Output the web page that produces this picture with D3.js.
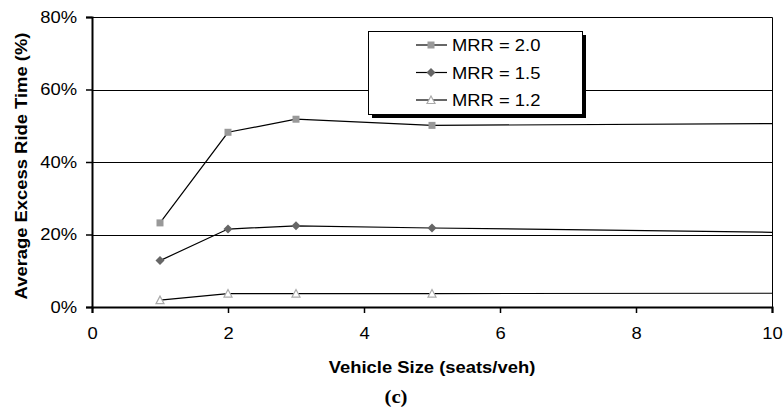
<!DOCTYPE html>
<html>
<head>
<meta charset="utf-8">
<script src="https://cdn.jsdelivr.net/npm/d3@7"></script>
<style>
  body { margin: 0; background: #fff; }
  svg { display: block; font-family: Arial, "Liberation Sans", sans-serif; }
</style>
</head>
<body>
<div id="chart"></div>
<script>
// ── Data ──────────────────────────────────────────────────────────────────
const vehicleSizes = [1, 2, 3, 5, 10];
const mrr20 = [23.2, 48.2, 51.8, 50.1, 50.6];
const mrr15 = [12.8, 21.5, 22.4, 21.8, 20.6];
const mrr12 = [1.9, 3.7, 3.7, 3.7, 3.8];
const seriesNames = ['MRR = 2.0', 'MRR = 1.5', 'MRR = 1.2'];
const xTicks = [0, 2, 4, 6, 8, 10];
const yTicks = [0, 20, 40, 60, 80];

const series = [
  { name: seriesNames[0], values: mrr20, marker: 'square' },
  { name: seriesNames[1], values: mrr15, marker: 'diamond' },
  { name: seriesNames[2], values: mrr12, marker: 'triangle' }
];

// ── Layout ────────────────────────────────────────────────────────────────
const W = 784, H = 407;
const margin = { top: 17, right: 12, bottom: 100, left: 92 };
const iw = W - margin.left - margin.right;
const ih = H - margin.top - margin.bottom;
const SX = 1.15; // the original's text is a little stretched sideways

const svg = d3.select('#chart').append('svg')
  .attr('width', W).attr('height', H);

const g = svg.append('g').attr('transform', `translate(${margin.left},${margin.top})`);

const x = d3.scaleLinear().domain([0, 10]).range([0, iw]);
const y = d3.scaleLinear().domain([0, 80]).range([ih, 0]);

// Gridlines
g.append('g')
  .selectAll('line').data(yTicks.filter(d => d > 0)).enter().append('line')
  .attr('x1', 0).attr('x2', iw)
  .attr('y1', d => Math.round(y(d)) + 0.5).attr('y2', d => Math.round(y(d)) + 0.5)
  .attr('stroke', '#000').attr('stroke-width', 1);

// Plot border (top + right)
g.append('path')
  .attr('d', `M0,0.5H${iw + 0.5}V${ih}`)
  .attr('fill', 'none').attr('stroke', '#000').attr('stroke-width', 1);

// Axes
const xAxis = g.append('g').attr('transform', `translate(0,${ih})`)
  .call(d3.axisBottom(x).tickValues(xTicks).tickSize(6).tickFormat(d3.format('d')));
const yAxis = g.append('g')
  .call(d3.axisLeft(y).tickValues(yTicks).tickSize(6).tickFormat(d => d + '%'));

[xAxis, yAxis].forEach(a => {
  a.select('.domain').attr('stroke', '#000').attr('stroke-width', 2);
  a.selectAll('.tick line').attr('stroke', '#000').attr('stroke-width', 1.5);
  a.selectAll('.tick text').attr('fill', '#000')
    .attr('font-size', 16).attr('font-family', 'Arial, "Liberation Sans", sans-serif')
    .attr('transform', `scale(${SX},1)`);
});
xAxis.selectAll('.tick text').attr('y', 32).attr('dy', 0);
yAxis.selectAll('.tick text').attr('x', -15 / SX);

// Axis titles
function stretchedText(px, py, rot, str, size, family, weight) {
  return svg.append('text')
    .attr('transform', `translate(${px},${py}) rotate(${rot}) scale(${SX},1)`)
    .attr('text-anchor', 'middle').attr('font-size', size).attr('font-weight', weight || 'bold')
    .attr('font-family', family || 'Arial, "Liberation Sans", sans-serif')
    .text(str);
}
stretchedText(margin.left + iw / 2, 373, 0, 'Vehicle Size (seats/veh)', 16);
stretchedText(27, 166, -90, 'Average Excess Ride Time (%)', 16);
stretchedText(396, 403, 0, '(c)', 18, '"Liberation Serif", "Times New Roman", serif');

// ── Markers ───────────────────────────────────────────────────────────────
function drawMarker(sel, type) {
  if (type === 'square') {
    sel.append('rect').attr('x', -3.5).attr('y', -3.5).attr('width', 7).attr('height', 7)
      .attr('fill', '#999');
  } else if (type === 'diamond') {
    sel.append('path').attr('d', 'M0,-4.5L4.5,0L0,4.5L-4.5,0Z').attr('fill', '#666');
  } else {
    sel.append('path').attr('d', 'M0,-4L4,3.5L-4,3.5Z')
      .attr('fill', '#fff').attr('stroke', '#aaa').attr('stroke-width', 1.2);
  }
}

const line = d3.line().x((d, i) => x(vehicleSizes[i])).y(d => y(d));

series.forEach(s => {
  g.append('path').datum(s.values)
    .attr('d', line).attr('fill', 'none').attr('stroke', '#000').attr('stroke-width', 1.2);
  s.values.forEach((v, i) => {
    if (vehicleSizes[i] >= 10) return; // edge point has no visible marker
    const m = g.append('g').attr('transform', `translate(${x(vehicleSizes[i])},${y(v)})`);
    drawMarker(m, s.marker);
  });
});

// ── Legend ────────────────────────────────────────────────────────────────
const lg = svg.append('g').attr('transform', 'translate(368,31)');
const lw = 214, lh = 83;
lg.append('rect').attr('x', 4).attr('y', 4).attr('width', lw).attr('height', lh).attr('fill', '#000');
lg.append('rect').attr('x', 0.5).attr('y', 0.5).attr('width', lw).attr('height', lh)
  .attr('fill', '#fff').attr('stroke', '#000').attr('stroke-width', 1);

series.forEach((s, i) => {
  const ry = 14 + i * 27.5;
  lg.append('line').attr('x1', 48).attr('x2', 79).attr('y1', ry).attr('y2', ry)
    .attr('stroke', '#000').attr('stroke-width', 1.2);
  drawMarker(lg.append('g').attr('transform', `translate(63,${ry})`), s.marker);
  lg.append('text').attr('transform', `translate(84,${ry + 6}) scale(${SX},1)`)
    .attr('font-size', 16).attr('fill', '#000').text(s.name);
});
</script>
</body>
</html>
